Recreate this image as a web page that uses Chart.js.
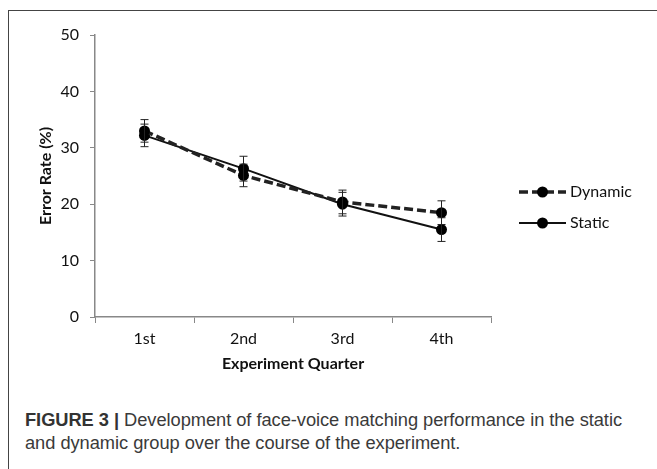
<!DOCTYPE html>
<html>
<head>
<meta charset="utf-8">
<script src="https://cdn.jsdelivr.net/npm/chart.js@4"></script>
<style>
  html, body { margin: 0; padding: 0; background: #fff; }
  body { width: 657px; height: 469px; position: relative; overflow: hidden; }
  #frame { position: absolute; left: 8px; top: 10px; width: 660px; height: 470px;
           border-left: 1px solid #444; border-top: 1px solid #444; }
  #wrap { position: absolute; left: 0; top: 0; width: 657px; height: 400px; }
  #caption { position: absolute; left: 25px; top: 408px; width: 628px;
             font-family: "Liberation Sans", Arial, sans-serif; font-size: 18.3px;
             line-height: 23px; color: #3a3a3a; letter-spacing: -0.05px; }
  #caption b { color: #333; }
</style>
</head>
<body>
<div id="frame"></div>
<div id="wrap"><canvas id="c" width="657" height="400"></canvas></div>
<div id="caption"><b>FIGURE 3 |</b> Development of face-voice matching performance in the static and dynamic group over the course of the experiment.</div>
<script>
const categories = ["1st", "2nd", "3rd", "4th"];
const dynamicValues = [33.0, 25.1, 20.4, 18.5];
const dynamicErrors = [2.0, 2.0, 2.1, 2.1];
const staticValues = [32.2, 26.3, 20.0, 15.5];
const staticErrors = [2.0, 2.2, 2.1, 2.1];
const yTicks = [0, 10, 20, 30, 40, 50];

const fam = "Lato, 'Open Sans', sans-serif";
const axisFont = { family: fam, size: 16 };

const errorBars = {
  id: 'errorBars',
  afterDatasetsDraw(chart) {
    const ctx = chart.ctx;
    const y = chart.scales.y;
    ctx.save();
    ctx.strokeStyle = '#222';
    ctx.lineWidth = 1;
    chart.data.datasets.forEach((ds, i) => {
      const meta = chart.getDatasetMeta(i);
      meta.data.forEach((pt, j) => {
        const v = ds.data[j], e = ds.errors[j];
        const yt = y.getPixelForValue(v + e), yb = y.getPixelForValue(v - e);
        const x = pt.x;
        ctx.beginPath();
        ctx.moveTo(x, yt); ctx.lineTo(x, yb);
        ctx.moveTo(x - 4, yt); ctx.lineTo(x + 4, yt);
        ctx.moveTo(x - 4, yb); ctx.lineTo(x + 4, yb);
        ctx.stroke();
      });
    });
    ctx.restore();
  }
};

const customLegend = {
  id: 'customLegend',
  afterDraw(chart) {
    const ctx = chart.ctx;
    ctx.save();
    const x0 = 519, x1 = 566, ys = [192, 223];
    chart.data.datasets.forEach((ds, i) => {
      const yy = ys[i];
      ctx.strokeStyle = ds.borderColor;
      ctx.lineWidth = ds.borderWidth;
      ctx.setLineDash(ds.borderDash || []);
      ctx.beginPath(); ctx.moveTo(x0, yy); ctx.lineTo(x1, yy); ctx.stroke();
      ctx.setLineDash([]);
      ctx.fillStyle = ds.pointBackgroundColor;
      ctx.beginPath(); ctx.arc((x0 + x1) / 2, yy, ds.pointRadius, 0, Math.PI * 2); ctx.fill();
      ctx.fillStyle = '#111';
      ctx.font = "16px " + fam;
      ctx.textBaseline = 'middle';
      ctx.textAlign = 'left';
      ctx.fillText(ds.label, 570, yy);
    });
    ctx.restore();
  }
};

new Chart(document.getElementById('c'), {
  type: 'line',
  data: {
    labels: categories,
    datasets: [
      { label: 'Dynamic', data: dynamicValues, errors: dynamicErrors,
        borderColor: '#222', borderWidth: 3.5, borderDash: [9, 4],
        pointRadius: 5.5, pointBackgroundColor: '#000', pointBorderColor: '#000',
        pointBorderWidth: 0, tension: 0, fill: false },
      { label: 'Static', data: staticValues, errors: staticErrors,
        borderColor: '#111', borderWidth: 2, borderDash: [],
        pointRadius: 5.5, pointBackgroundColor: '#000', pointBorderColor: '#000',
        pointBorderWidth: 0, tension: 0, fill: false }
    ]
  },
  options: {
    responsive: false,
    animation: false,
    events: [],
    layout: { padding: { left: 32, right: 166, top: 35, bottom: 23 } },
    plugins: { legend: { display: false }, tooltip: { enabled: false } },
    scales: {
      x: {
        type: 'category',
        offset: true,
        afterFit(s) { s.height = 60; },
        grid: { offset: true, drawOnChartArea: false, drawTicks: true, tickLength: 6, color: '#888', lineWidth: 1 },
        border: { display: true, color: '#888', width: 1.5 },
        ticks: { color: '#111', font: axisFont, padding: 6 },
        title: { display: true, text: 'Experiment Quarter', color: '#111',
                 font: { family: fam, size: 16, weight: 'bold' }, padding: { top: 5 } }
      },
      y: {
        min: 0, max: 50,
        afterFit(s) { s.width = 63; },
        afterBuildTicks(s) { s.ticks = yTicks.map(v => ({ value: v })); },
        grid: { drawOnChartArea: false, drawTicks: true, tickLength: 5, color: '#888', lineWidth: 1 },
        border: { display: true, color: '#888', width: 1.5 },
        ticks: { color: '#111', font: axisFont, padding: 11 },
        title: { display: true, text: 'Error Rate (%)', color: '#111',
                 font: { family: fam, size: 16, weight: 'bold' }, padding: { bottom: 4 } }
      }
    }
  },
  plugins: [errorBars, customLegend]
});
</script>
</body>
</html>
